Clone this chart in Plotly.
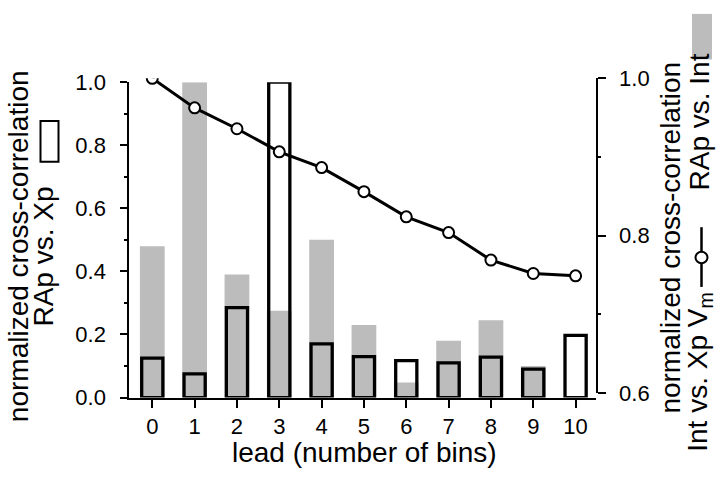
import plotly.graph_objects as go

# ---- data ----
lead = [0, 1, 2, 3, 4, 5, 6, 7, 8, 9, 10]
rap_vs_int = [0.48, 1.00, 0.39, 0.275, 0.50, 0.23, 0.048, 0.18, 0.245, 0.10, 0.0]
rap_vs_xp = [0.125, 0.075, 0.285, 1.00, 0.17, 0.13, 0.117, 0.11, 0.128, 0.09, 0.197]
int_vs_xp_vm = [1.0, 0.9625, 0.936, 0.9066, 0.8866, 0.856, 0.824, 0.804, 0.769, 0.752, 0.749]
x_ticks = [0, 1, 2, 3, 4, 5, 6, 7, 8, 9, 10]
left_ticks = [0.0, 0.2, 0.4, 0.6, 0.8, 1.0]
right_ticks = [0.6, 0.8, 1.0]

W, H = 720, 481
FONT = "Liberation Sans, Arial, Helvetica, sans-serif"
GRAY = "#bcbcbc"


def px(x):
    return x / W


def py(y):
    return 1 - y / H


fig = go.Figure()
fig.add_trace(go.Bar(x=lead, y=rap_vs_int, width=0.585, marker=dict(color=GRAY, line=dict(width=0)),
                     xaxis="x", yaxis="y", showlegend=False))
fig.add_trace(go.Bar(x=lead, y=rap_vs_xp, width=0.5,
                     marker=dict(color="rgba(0,0,0,0)", line=dict(color="black", width=3.3)),
                     xaxis="x", yaxis="y", showlegend=False))
fig.add_trace(go.Scatter(x=lead, y=int_vs_xp_vm, mode="lines+markers", xaxis="x", yaxis="y2",
                         line=dict(color="black", width=3),
                         marker=dict(symbol="circle", size=11, color="white", line=dict(color="black", width=2)),
                         showlegend=False))

tickfont = dict(family=FONT, size=22, color="black")
fig.update_layout(
    width=W, height=H,
    margin=dict(l=0, r=0, t=0, b=0),
    paper_bgcolor="white", plot_bgcolor="rgba(0,0,0,0)",
    barmode="overlay",
    xaxis=dict(domain=[px(129.3), px(595.7)], range=[-0.543, 10.475], anchor="y",
               tickvals=x_ticks, ticktext=[str(v) for v in x_ticks],
               ticks="outside", ticklen=8, tickwidth=2, tickcolor="black",
               showline=True, linewidth=2, linecolor="black", showgrid=False, zeroline=False,
               tickfont=tickfont, ticklabelstandoff=0),
    yaxis=dict(domain=[py(406.7), py(74)], range=[0, 1], anchor="x",
               tickvals=left_ticks, ticktext=["%.1f" % v for v in left_ticks],
               ticks="outside", ticklen=7, tickwidth=2, tickcolor="black",
               minor=dict(dtick=0.1, tick0=0, ticks="outside", ticklen=3, tickwidth=2, tickcolor="black"),
               showline=True, linewidth=2, linecolor="black", showgrid=False, zeroline=False,
               tickfont=tickfont, ticklabelstandoff=10),
    yaxis2=dict(domain=[py(402), py(70)], range=[0.6, 1.0], anchor="x", side="right",
                tickvals=right_ticks, ticktext=["%.1f" % v for v in right_ticks],
                ticks="outside", ticklen=8, tickwidth=2, tickcolor="black",
                minor=dict(dtick=0.1, tick0=0.6, ticks="outside", ticklen=3, tickwidth=2, tickcolor="black"),
                showline=True, linewidth=2, linecolor="black", showgrid=False, zeroline=False,
                tickfont=tickfont, ticklabelstandoff=9),
)

tfont = dict(family=FONT, size=28, color="black")
ann = [
    dict(text="lead (number of bins)", x=px(364.5), y=py(465), textangle=0),
    dict(text="normalized cross-correlation", x=px(18.5), y=py(247.5), textangle=-90),
    dict(text="RAp vs. Xp", x=px(44), y=py(258), textangle=-90),
    dict(text="normalized cross-correlation", x=px(670.5), y=py(238.5), textangle=-90),
    dict(text="Int vs. Xp V<sub>m</sub>", x=px(699.5), y=py(380), textangle=-90),
    dict(text="RAp vs. Int", x=px(699.5), y=py(116), textangle=-90),
]
for a in ann:
    fig.add_annotation(xref="paper", yref="paper", xanchor="center", yanchor="middle",
                       showarrow=False, font=tfont, **a)

shapes = [
    # legend box for RAp vs. Xp (open bar)
    dict(type="rect", x0=px(40.5), x1=px(58.5), y0=py(158), y1=py(115),
         line=dict(color="black", width=2), fillcolor="white"),
    # legend swatch for RAp vs. Int (gray bar)
    dict(type="rect", x0=px(692), x1=px(712), y0=py(50), y1=py(2),
         line=dict(width=0), fillcolor=GRAY),
    # legend glyph for Int vs. Xp Vm (line with open circle)
    dict(type="line", x0=px(701.5), x1=px(701.5), y0=py(290), y1=py(227),
         line=dict(color="black", width=2.5)),
    dict(type="circle", x0=px(695.5), x1=px(707.5), y0=py(265), y1=py(253),
         line=dict(color="black", width=2), fillcolor="white"),
]
for s in shapes:
    fig.add_shape(xref="paper", yref="paper", layer="above", **s)

fig.write_html("out.html", config={"displayModeBar": False},
               post_script="document.body.style.margin='0';document.body.style.padding='0';")
